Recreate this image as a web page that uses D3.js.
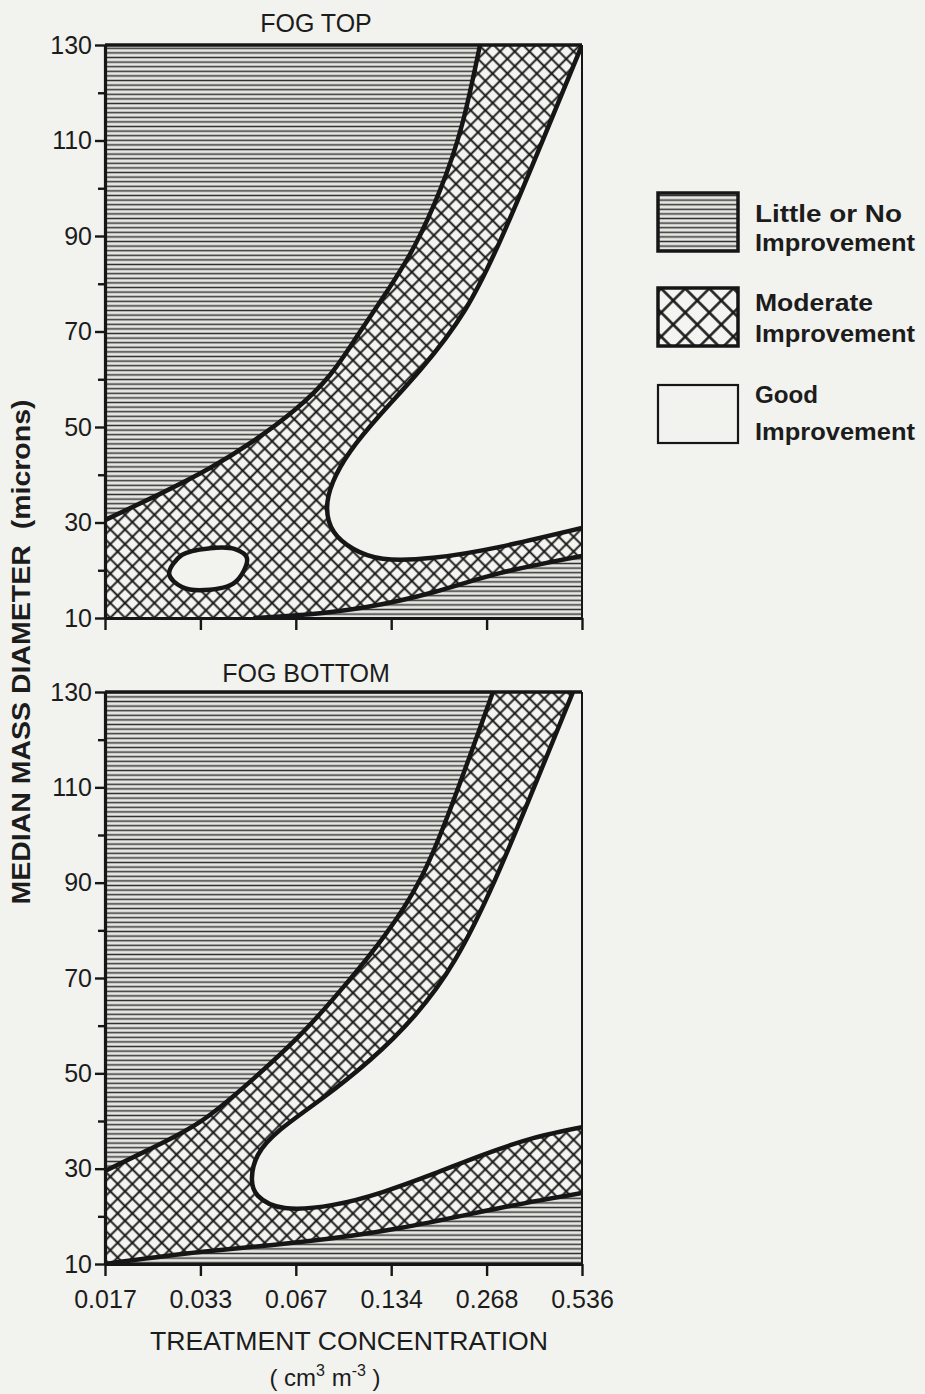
<!DOCTYPE html>
<html lang="en">
<head>
<meta charset="UTF-8">
<title>Fog treatment improvement</title>
<script src="https://cdnjs.cloudflare.com/ajax/libs/d3/7.8.5/d3.min.js"></script>
<style>
  body { margin: 0; background: #f2f2ee; }
  svg text { font-family: "Liberation Sans", Arial, sans-serif; fill: #1c1c1c; }
</style>
</head>
<body>
<svg id="chart" width="925" height="1394"></svg>
<script>
// treatment concentration ticks (cm3 m-3), each step doubles
const concTicks = [0.01675, 0.0335, 0.067, 0.134, 0.268, 0.536]
const concLabels = ["0.017", "0.033", "0.067", "0.134", "0.268", "0.536"]
const diamMajor = [10, 30, 50, 70, 90, 110, 130]
const diamMinor = [20, 40, 60, 80, 100, 120]

// FOG TOP boundaries, [concentration, diameter]
const topUpper = [[0.01675, 30.5], [0.025, 36.0], [0.0359, 41.4], [0.0498, 47.3], [0.0666, 53.6],
  [0.0859, 60.9], [0.1053, 69.3], [0.1309, 78.7], [0.1593, 88.1], [0.1911, 99.6], [0.2242, 113.3], [0.2555, 130]]
const topGood = [[0.536, 130], [0.4096, 111.2], [0.3064, 91.3], [0.2291, 74.5], [0.1652, 61.9],
  [0.1235, 52.5], [0.0993, 44.8], [0.0878, 38.5], [0.0841, 33.0], [0.0884, 28.0], [0.1016, 24.5],
  [0.1262, 22.4], [0.1816, 22.6], [0.2953, 24.9], [0.536, 28.85]]
const topLower = [[0.0498, 10], [0.0743, 10.8], [0.112, 12.3], [0.182, 15.4], [0.295, 19.4], [0.536, 23.0]]
const topPocket = [[0.0470, 22.5], [0.0431, 24.4], [0.0359, 24.6], [0.0293, 23.2], [0.0267, 19.2],
  [0.0293, 16.5], [0.0346, 15.85], [0.0431, 17.5]]

// FOG BOTTOM boundaries
const botUpper = [[0.01675, 29.5], [0.0232, 34.1], [0.0334, 39.8], [0.048, 48.2], [0.0691, 58.0],
  [0.0958, 68.5], [0.1281, 79.0], [0.1652, 90.6], [0.2025, 104.2], [0.241, 117.8], [0.2807, 130]]
const botGood = [[0.502, 130], [0.381, 110.5], [0.285, 90.6], [0.213, 73.8], [0.1593, 62.2],
  [0.1149, 52.8], [0.0799, 44.4], [0.0597, 38.1], [0.0509, 32.9], [0.0487, 28.0], [0.0509, 24.3],
  [0.0619, 21.75], [0.0878, 22.4], [0.126, 25.1], [0.182, 28.9], [0.261, 32.9], [0.376, 36.4], [0.536, 38.7]]
const botLower = [[0.01675, 10], [0.0334, 12.5], [0.0691, 14.6], [0.143, 17.55], [0.295, 21.75], [0.536, 24.9]]

const legendLines = [["Little or No", "Improvement"], ["Moderate", "Improvement"], ["Good", "Improvement"]]
const legendWidths = [[147, 160], [118, 160], [63, 160]]

const bg = "#f2f2ee", ink = "#161616"
const svg = d3.select("#chart")
svg.append("rect").attr("width", 925).attr("height", 1394).attr("fill", bg)
const defs = svg.append("defs")

// horizontal hatch = little or no improvement
const hatch = defs.append("pattern").attr("id", "hatch").attr("patternUnits", "userSpaceOnUse")
  .attr("width", 10).attr("height", 4.6)
hatch.append("rect").attr("width", 10).attr("height", 4.6).attr("fill", "#e6e6e2")
hatch.append("line").attr("x1", 0).attr("x2", 10).attr("y1", 2.3).attr("y2", 2.3)
  .attr("stroke", "#333").attr("stroke-width", 1.5)

// cross hatch = moderate improvement
const makeCross = (id, s, w) => {
  const p = defs.append("pattern").attr("id", id).attr("patternUnits", "userSpaceOnUse")
    .attr("width", s).attr("height", s).attr("patternTransform", "rotate(45)")
  p.append("rect").attr("width", s).attr("height", s).attr("fill", "#f4f4f1")
  p.append("path").attr("d", `M0,${s / 2}H${s}M${s / 2},0V${s}`)
    .attr("stroke", ink).attr("stroke-width", w)
}
makeCross("cross", 10.4, 1.9)
makeCross("crossBig", 17, 2.4)

const x = d3.scaleLog().base(2).domain([concTicks[0], concTicks[concTicks.length - 1]]).range([105, 582])
const xMin = concTicks[0], xMax = concTicks[concTicks.length - 1]

const drawPanel = (cfg) => {
  const y = d3.scaleLinear().domain([10, 130]).range([cfg.bottom, cfg.top])
  const bend = d3.line().x(d => x(d[0])).y(d => y(d[1])).curve(d3.curveNatural)
  const loop = d3.line().x(d => x(d[0])).y(d => y(d[1])).curve(d3.curveCatmullRomClosed.alpha(0.5))
  const g = svg.append("g")

  defs.append("clipPath").attr("id", "clip-" + cfg.id).append("rect")
    .attr("x", x(xMin)).attr("y", y(130)).attr("width", x(xMax) - x(xMin)).attr("height", y(10) - y(130))
  const plot = g.append("g").attr("clip-path", `url(#clip-${cfg.id})`)

  plot.append("rect").attr("x", x(xMin)).attr("y", y(130))
    .attr("width", x(xMax) - x(xMin)).attr("height", y(10) - y(130)).attr("fill", "url(#hatch)")

  const low = cfg.lower
  const modPath = bend(cfg.upper)
    + `L${x(xMax)},${y(130)}L${x(xMax)},${y(low[low.length - 1][1])}`
    + bend(low.slice().reverse()).replace(/^M/, "L")
    + `L${x(xMin)},${y(10)}Z`
  plot.append("path").attr("d", modPath).attr("fill", "url(#cross)")

  plot.append("path").attr("d", bend(cfg.good) + `L${x(xMax)},${y(130)}Z`).attr("fill", bg)
  if (cfg.pocket) plot.append("path").attr("d", loop(cfg.pocket)).attr("fill", bg)

  const strokes = [bend(cfg.upper), bend(cfg.good), bend(cfg.lower)]
  if (cfg.pocket) strokes.push(loop(cfg.pocket))
  plot.selectAll("path.edge").data(strokes).enter().append("path").attr("class", "edge")
    .attr("d", d => d).attr("fill", "none").attr("stroke", ink)
    .attr("stroke-width", 4.5).attr("stroke-linecap", "round")

  // frame
  g.append("line").attr("x1", x(xMin)).attr("x2", x(xMax)).attr("y1", y(130)).attr("y2", y(130))
    .attr("stroke", ink).attr("stroke-width", 3.5)
  g.append("line").attr("x1", x(xMax)).attr("x2", x(xMax)).attr("y1", y(130)).attr("y2", y(10))
    .attr("stroke", ink).attr("stroke-width", 2)

  g.append("g").attr("transform", `translate(${x(xMin)},0)`)
    .call(d3.axisLeft(y).tickValues(diamMajor).tickSize(10).tickSizeOuter(0).tickPadding(3).tickFormat(d3.format("d")))
  const yMinor = g.append("g").attr("transform", `translate(${x(xMin)},0)`)
    .call(d3.axisLeft(y).tickValues(diamMinor).tickSize(7).tickFormat(""))
  yMinor.select(".domain").remove()

  g.append("g").attr("transform", `translate(0,${y(10)})`)
    .call(d3.axisBottom(x).tickValues(concTicks).tickSize(12).tickSizeOuter(0).tickPadding(14)
      .tickFormat((d, i) => cfg.xLabels ? concLabels[i] : ""))

  g.selectAll(".domain").attr("stroke", ink).attr("stroke-width", 3.2)
  g.selectAll(".tick line").attr("stroke", ink).attr("stroke-width", 2.4)
  g.selectAll(".tick text").attr("font-size", 25).attr("fill", "#1c1c1c")
    .attr("font-family", "Liberation Sans, Arial, sans-serif")

  g.append("text").attr("x", cfg.titleX).attr("y", cfg.titleY).attr("text-anchor", "middle")
    .attr("font-size", 25).attr("fill", "#2a2a2a").text(cfg.title)
}

drawPanel({ id: "top", top: 45, bottom: 618, upper: topUpper, good: topGood, lower: topLower,
  pocket: topPocket, xLabels: false, title: "FOG TOP", titleX: 316, titleY: 32 })
drawPanel({ id: "bot", top: 692, bottom: 1264, upper: botUpper, good: botGood, lower: botLower,
  xLabels: true, title: "FOG BOTTOM", titleX: 306, titleY: 682 })

// axis titles
svg.append("text").attr("transform", "translate(30,652) rotate(-90)").attr("text-anchor", "middle")
  .attr("font-size", 25).attr("font-weight", "bold").attr("textLength", 505).attr("lengthAdjust", "spacingAndGlyphs")
  .style("white-space", "pre").text("MEDIAN MASS DIAMETER  (microns)")

svg.append("text").attr("x", 349).attr("y", 1350).attr("text-anchor", "middle")
  .attr("font-size", 25).attr("textLength", 398).attr("lengthAdjust", "spacingAndGlyphs")
  .text("TREATMENT CONCENTRATION")

const unit = svg.append("text").attr("x", 325).attr("y", 1386).attr("text-anchor", "middle")
  .attr("font-size", 24).style("white-space", "pre")
unit.append("tspan").text("( cm")
unit.append("tspan").attr("font-size", 16).attr("dy", -10).text("3")
unit.append("tspan").attr("dy", 10).text(" m")
unit.append("tspan").attr("font-size", 16).attr("dy", -10).text("-3")
unit.append("tspan").attr("dy", 10).text(" )")

// legend
const legendFill = ["url(#hatch)", "url(#crossBig)", bg]
const legendTop = [193, 288, 385]
const legendBase = [[222, 251], [311, 342], [403, 440]]
const lg = svg.append("g")
legendLines.forEach((lines, i) => {
  lg.append("rect").attr("x", 658).attr("y", legendTop[i]).attr("width", 80).attr("height", 58)
    .attr("fill", legendFill[i]).attr("stroke", ink).attr("stroke-width", i < 2 ? 3.5 : 2.2)
  lines.forEach((t, j) => {
    lg.append("text").attr("x", 755).attr("y", legendBase[i][j]).attr("font-size", 24)
      .attr("font-weight", "bold").attr("textLength", legendWidths[i][j])
      .attr("lengthAdjust", "spacingAndGlyphs").text(t)
  })
})
</script>
</body>
</html>
